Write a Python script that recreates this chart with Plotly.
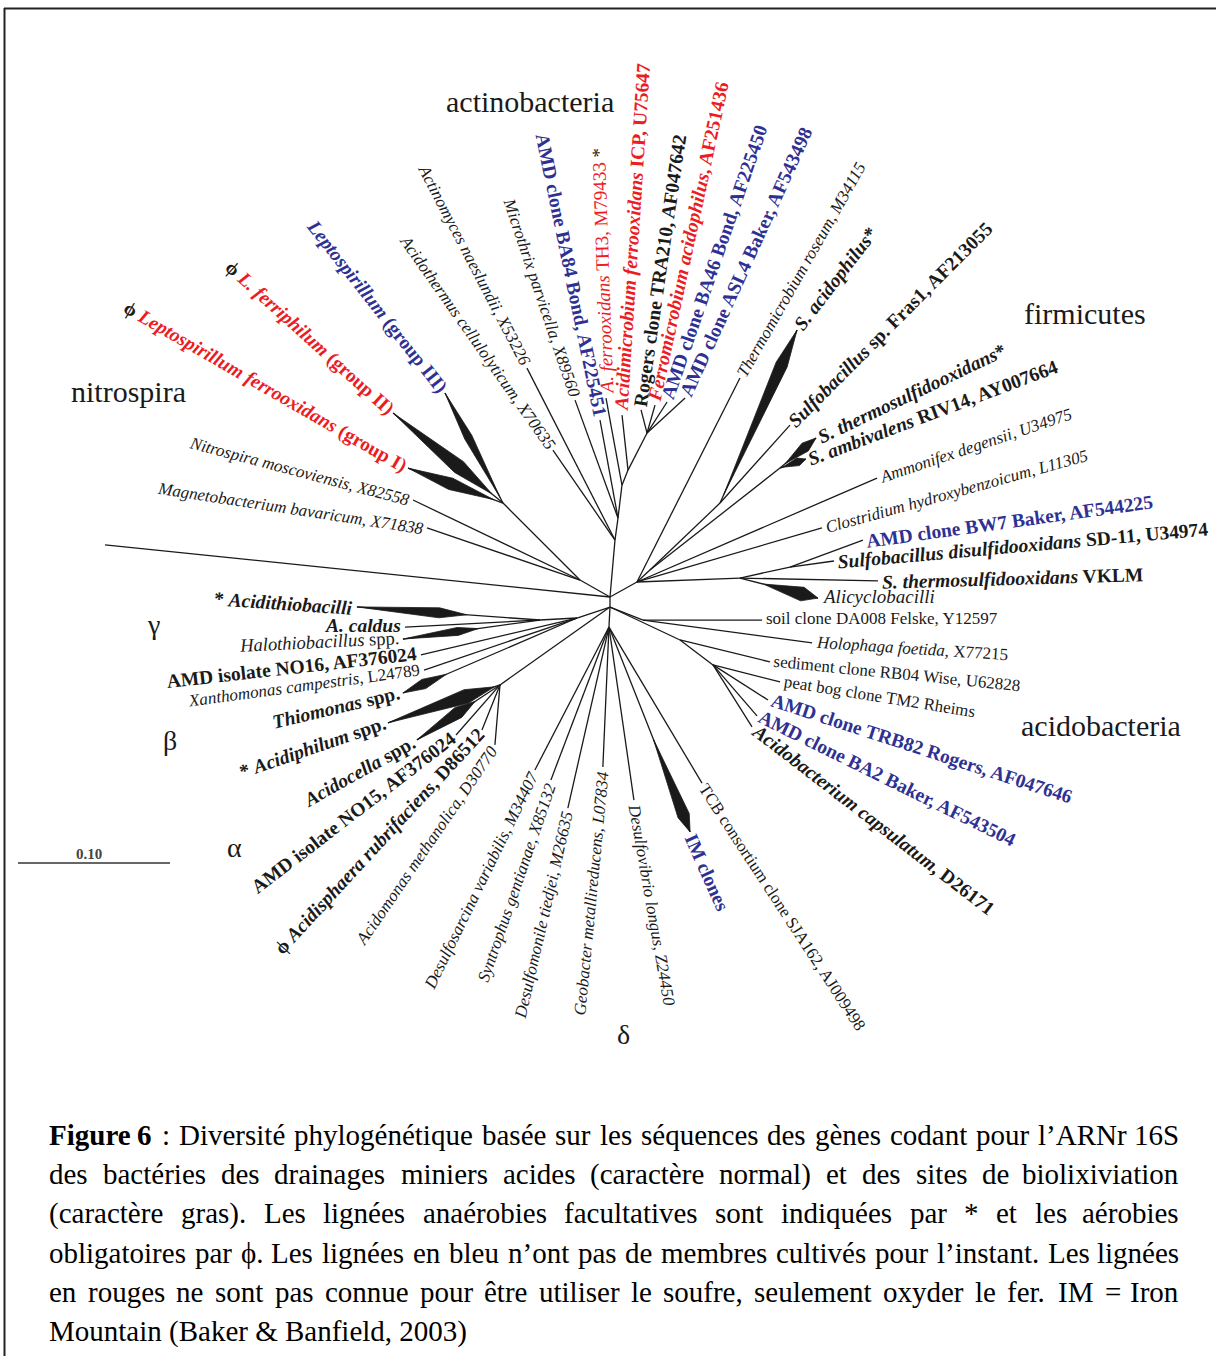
import math
import re
import plotly.graph_objects as go

# ======================= DATA =======================
# Scale bar of the tree (substitutions per site) and its length in the picture
SCALE_BAR_VALUE = 0.10
SCALE_BAR_PIXELS = 152.0

# Internal nodes of the unrooted tree: parent, branch length (subst./site), direction (deg, CCW from +x)
node_name = ["D", "F0", "A1", "N1", "N2", "A2", "A3", "A4", "A5", "Fa", "F1", "F2",
             "Fd", "Fe", "Ah", "Ac1", "Ac2", "De0", "G0", "Ga", "Al"]
node_parent = ["R", "R", "R", "R", "N1", "A1", "A2", "A3", "A4", "F0", "Fa", "Fa",
               "F0", "Fd", "D", "D", "Ac1", "D", "D", "G0", "D"]
node_length = [0.0066, 0.0203, 0.0376, 0.0227, 0.0716, 0.0146, 0.0218, 0.0107, 0.0274, 0.0116, 0.0638, 0.1087,
               0.0678, 0.0337, 0.0234, 0.0509, 0.0272, 0.0132, 0.0229, 0.0244, 0.0887]
node_dir = [-90.0, 29.1, 85.0, 150.5, 135.0, 82.2, 83.1, 68.2, 62.8, 42.7, 43.7, 38.1,
            2.2, 12.4, -21.5, -25.2, -37.1, -92.9, 198.4, 183.1, 215.3]

# Leaves
leaf_key = ["outgroup", "magneto", "nitro", "leptoI", "leptoII", "leptoIII", "actinomyces", "acidothermus",
            "microthrix", "ba84", "th3", "acidimicrobium", "rogers", "ferromicrobium", "ba46", "asl4",
            "thermo", "sacido", "fras1", "sthermo", "sambi", "ammonifex", "clostridium", "bw7", "sd11",
            "vklm", "alicyclo", "soil", "holophaga", "sediment", "peat", "trb82", "ba2", "acidobacterium",
            "desulfosarcina", "syntrophus", "desulfomonile", "geobacter", "desulfovibrio", "im", "tcb",
            "acidithio", "acaldus", "halothio", "no16", "xantho", "thiomonas", "acidiphilum", "acidocella",
            "no15", "acidisphaera", "acidomonas"]
leaf_text = [
    "",
    "<i>Magnetobacterium bavaricum, X71838</i>",
    "<i>Nitrospira moscoviensis, X82558</i>",
    "ϕ <i>Leptospirillum ferrooxidans</i> (group I)",
    "ϕ <i>L. ferriphilum</i> (group II)",
    "<i>Leptospirillum</i> (group III)",
    "<i>Actinomyces naeslundii, X53226</i>",
    "<i>Acidothermus cellulolyticum, X70635</i>",
    "<i>Microthrix parvicella, X89560</i>",
    "AMD clone BA84 Bond, AF225451",
    "<i>A. ferrooxidans</i> TH3, M79433 *",
    "<i>Acidimicrobium ferrooxidans</i> ICP, U75647",
    "Rogers clone TRA210, AF047642",
    "<i>Ferromicrobium acidophilus</i>, AF251436",
    "AMD clone BA46 Bond, AF225450",
    "AMD clone ASL4 Baker, AF543498",
    "<i>Thermomicrobium roseum, M34115</i>",
    "<i>S. acidophilus</i>*",
    "<i>Sulfobacillus</i> sp. Fras1, AF213055",
    "<i>S. thermosulfidooxidans</i>*",
    "<i>S. ambivalens</i> RIV14, AY007664",
    "<i>Ammonifex degensii, U34975</i>",
    "<i>Clostridium hydroxybenzoicum, L11305</i>",
    "AMD clone BW7 Baker, AF544225",
    "<i>Sulfobacillus disulfidooxidans</i> SD-11, U34974",
    "<i>S. thermosulfidooxidans</i> VKLM",
    "<i>Alicyclobacilli</i>",
    "soil clone DA008 Felske, Y12597",
    "<i>Holophaga foetida</i>, X77215",
    "sediment clone RB04 Wise, U62828",
    "peat bog clone TM2 Rheims",
    "AMD clone TRB82 Rogers, AF047646",
    "AMD clone BA2 Baker, AF543504",
    "<i>Acidobacterium capsulatum</i>, D26171",
    "<i>Desulfosarcina variabilis, M34407</i>",
    "<i>Syntrophus gentianae, X85132</i>",
    "<i>Desulfomonile tiedjei, M26635</i>",
    "<i>Geobacter metallireducens, L07834</i>",
    "<i>Desulfovibrio longus, Z24450</i>",
    "IM clones",
    "TCB consortium clone SJA162, AJ009498",
    "* <i>Acidithiobacilli</i>",
    "<i>A. caldus</i>",
    "<i>Halothiobacillus</i> spp.",
    "AMD isolate NO16, AF376024",
    "<i>Xanthomonas campestris</i>, L24789",
    "<i>Thiomonas</i> spp.",
    "* <i>Acidiphilum</i> spp.",
    "<i>Acidocella</i> spp.",
    "AMD isolate NO15, AF376024",
    "ϕ <i>Acidisphaera rubrifaciens</i>, D86512",
    "<i>Acidomonas methanolica, D30770</i>",
]
leaf_parent = ["R", "N1", "N1", "N2", "N2", "N2", "A1", "A1", "A2", "A2", "A3", "A4", "A5", "A5", "A5", "A5",
               "F0", "F1", "F1", "F2", "F2", "F0", "F0", "Fe", "Fe", "Fd", "Fd", "Ah", "Ah", "Ac1", "Ac2",
               "Ac2", "Ac2", "Ac2", "De0", "De0", "De0", "De0", "De0", "De0", "De0", "Ga", "Ga", "Ga",
               "G0", "G0", "G0", "Al", "Al", "Al", "Al", "Al"]
leaf_length = [0.3340, 0.1063, 0.1218, 0.0666, 0.0935, 0.0818, 0.1271, 0.0719, 0.0826, 0.0655, 0.0582,
               0.0364, 0.0157, 0.0191, 0.0243, 0.0340, 0.1503, 0.1246, 0.0689, 0.0309, 0.0181, 0.1721,
               0.1268, 0.0512, 0.0292, 0.0908, 0.0530, 0.0783, 0.1122, 0.0609, 0.0455, 0.0429, 0.0443,
               0.0482, 0.1059, 0.1076, 0.1221, 0.0922, 0.1150, 0.1450, 0.1195, 0.1207, 0.0889, 0.0910,
               0.1055, 0.1063, 0.1247, 0.0778, 0.0655, 0.0438, 0.0319, 0.0396]
leaf_dir = [174.1, 161.2, 154.4, 159.8, 140.7, 117.8, 117.1, 124.6, 110.0, 100.4, 100.4, 96.2, 104.6, 74.1,
            57.2, 42.6, 63.2, 66.0, 48.1, 39.8, 19.1, 23.4, 16.3, 20.3, 7.8, -1.2, -14.4, 0.0, -7.7, -13.7,
            -14.2, -32.5, -49.2, -57.8, 242.6, 249.2, 257.2, 267.5, -81.8, -68.4, -59.2, 175.9, 183.0,
            187.9, 193.3, 198.8, 203.3, 198.7, 213.5, 228.7, 248.2, 265.2]
label_dir = [174.1, 171.3, 165.2, 150.1, 138.0, 128.2, 117.5, 125.1, 108.6, 101.7, 92.0, 86.3, 81.7, 77.9,
             70.9, 65.5, 60.4, 52.5, 45.1, 25.5, 20.7, 18.6, 15.5, 7.9, 5.1, 1.7, 0.0, 0.0, -3.7, -5.7,
             -9.1, -18.0, -26.2, -37.5, 244.0, 251.0, 257.0, 264.5, -80.0, -66.0, -56.9, 176.0, 180.0,
             182.8, 186.4, 187.7, 193.3, 199.0, 209.1, 217.5, 227.3, 235.6]
# lineage class: iron = only iron oxidisers (red), uncultured (blue), other (black)
leaf_lineage = ["other", "other", "other", "iron", "iron", "uncultured", "other", "other", "other", "uncultured",
                "iron", "iron", "other", "iron", "uncultured", "uncultured", "other", "other", "other", "other",
                "other", "other", "other", "uncultured", "other", "other", "other", "other", "other", "other",
                "other", "uncultured", "uncultured", "other", "other", "other", "other", "other", "other",
                "uncultured", "other", "other", "other", "other", "other", "other", "other", "other", "other",
                "other", "other", "other"]
# bioleaching-site sequences (printed bold)
leaf_bioleaching = [False, False, False, True, True, True, False, False, False, True, False, True, True, True,
                    True, True, False, True, True, True, True, False, False, True, True, True, False, False,
                    False, False, False, True, True, True, False, False, False, False, False, True, False,
                    True, True, False, True, False, True, True, True, True, True, False]
leaf_collapsed = ["leptoI", "leptoII", "leptoIII", "sacido", "sthermo", "sambi", "alicyclo", "im",
                  "acidithio", "halothio", "thiomonas", "acidiphilum", "acidocella"]

group_names = ["actinobacteria", "nitrospira", "firmicutes", "acidobacteria", "γ", "β", "α", "δ"]

caption_lines = [
    "<b>Figure</b> <b>6</b> : Diversité phylogénétique basée sur les séquences des gènes codant pour l’ARNr 16S",
    "des bactéries des drainages miniers acides (caractère normal) et des sites de biolixiviation",
    "(caractère gras). Les lignées anaérobies facultatives sont indiquées par * et les aérobies",
    "obligatoires par ϕ. Les lignées en bleu n’ont pas de membres cultivés pour l’instant. Les lignées",
    "en rouges ne sont pas connue pour être utiliser le soufre, seulement oxyder le fer. IM = Iron",
    "Mountain (Baker &amp; Banfield, 2003)",
]

# ======================= STYLE / LAYOUT =======================
W, H = 1216, 1356
PX = SCALE_BAR_PIXELS / SCALE_BAR_VALUE
ROOT_XY = (610.0, 597.0)
SERIF = "Liberation Serif"
INK = "#1a1a1a"
COLOURS = {"iron": "#ec1c24", "uncultured": "#2e3192", "other": INK}
SIZE_BOLD, SIZE_PLAIN = 19.5, 17.0
SIZE_OVERRIDE = {"th3": 19.0, "halothio": 18.5, "alicyclo": 19.0}
KITE = {  # start fraction, widest fraction, half width (px)
    "leptoI": (0.10, 0.55, 6), "leptoII": (0.10, 0.40, 7), "leptoIII": (0.05, 0.60, 4),
    "sacido": (0.05, 0.80, 6), "sthermo": (0.15, 0.70, 5), "sambi": (0.10, 0.70, 4),
    "alicyclo": (0.30, 0.80, 7), "im": (0.55, 0.92, 6), "acidithio": (0.40, 0.55, 5),
    "halothio": (0.45, 0.60, 4), "thiomonas": (0.75, 0.88, 5), "acidiphilum": (0.05, 0.30, 7),
    "acidocella": (0.30, 0.50, 6),
}
GROUP_POS = {"actinobacteria": (530, 101, 30), "nitrospira": (128, 391, 30), "firmicutes": (1085, 313, 30),
             "acidobacteria": (1101, 725, 30), "γ": (153, 624, 28), "β": (170, 740, 28),
             "α": (234, 847, 28), "δ": (623, 1034, 28)}

# ---------------- tree geometry ----------------
pos = {"R": ROOT_XY}


def child_xy(parent, length, ang):
    px, py = pos[parent]
    L = length * PX
    a = math.radians(ang)
    return (px + L * math.cos(a), py - L * math.sin(a))


seg_x, seg_y = [], []
for n, p, l, a in zip(node_name, node_parent, node_length, node_dir):
    pos[n] = child_xy(p, l, a)
    seg_x += [pos[p][0], pos[n][0], None]
    seg_y += [pos[p][1], pos[n][1], None]

tips = []
for i in range(len(leaf_key)):
    t = child_xy(leaf_parent[i], leaf_length[i], leaf_dir[i])
    tips.append(t)
    p = pos[leaf_parent[i]]
    seg_x += [p[0], t[0], None]
    seg_y += [p[1], t[1], None]

kx, ky = [], []
for key in leaf_collapsed:
    i = leaf_key.index(key)
    a0, b0, hw = KITE[key]
    S = pos[leaf_parent[i]]
    T = tips[i]
    dx, dy = T[0] - S[0], T[1] - S[1]
    L = math.hypot(dx, dy)
    nx, ny = -dy / L, dx / L
    q0 = (S[0] + a0 * dx, S[1] + a0 * dy)
    qb = (S[0] + b0 * dx, S[1] + b0 * dy)
    kx += [q0[0], qb[0] + hw * nx, T[0], qb[0] - hw * nx, q0[0], None]
    ky += [q0[1], qb[1] + hw * ny, T[1], qb[1] - hw * ny, q0[1], None]


def place_label(tip, phi_deg, fs, gap=4.0):
    phi = ((phi_deg + 180.0) % 360.0) - 180.0
    outward = -94.0 < phi < 94.0
    r = math.radians(phi)
    bx, by = math.cos(r), -math.sin(r)
    Px, Py = tip[0] + gap * bx, tip[1] + gap * by
    if outward:
        alpha = phi
    else:
        alpha = phi - 180.0 if phi > 0 else phi + 180.0
    a = math.radians(alpha)
    nx, ny = -math.sin(a), -math.cos(a)
    h = 1.25 * fs
    if bx >= 0:
        xa, xanc = Px - h / 2 * abs(nx), "left"
    else:
        xa, xanc = Px + h / 2 * abs(nx), "right"
    if by < 0:
        ya, yanc = Py + h / 2 * abs(ny), "bottom"
    else:
        ya, yanc = Py - h / 2 * abs(ny), "top"
    return xa, ya, xanc, yanc, -alpha


annotations = []
for i, key in enumerate(leaf_key):
    txt = leaf_text[i]
    if not txt:
        continue
    colour = COLOURS[leaf_lineage[i]]
    if leaf_lineage[i] != "other":
        txt = txt.replace("ϕ", "<span style='color:%s'>ϕ</span>" % INK)
        txt = txt.replace("*", "<span style='color:%s'>*</span>" % INK)
    bold = leaf_bioleaching[i]
    if bold:
        txt = "<b>" + txt + "</b>"
    fs = SIZE_OVERRIDE.get(key, SIZE_BOLD if bold else SIZE_PLAIN)
    xa, ya, xanc, yanc, tang = place_label(tips[i], label_dir[i], fs)
    annotations.append(dict(x=xa, y=ya, xref="x", yref="y", text=txt, showarrow=False,
                            xanchor=xanc, yanchor=yanc, textangle=tang, borderpad=0, borderwidth=0,
                            font=dict(family=SERIF, size=fs, color=colour)))

for g in group_names:
    gx, gy, gs = GROUP_POS[g]
    annotations.append(dict(x=gx, y=gy, xref="x", yref="y", text=g, showarrow=False,
                            xanchor="center", yanchor="middle", borderpad=0,
                            font=dict(family=SERIF, size=gs, color=INK)))

# scale bar
SB_X0, SB_Y = 18.0, 863.0
sb_x = [SB_X0, SB_X0 + SCALE_BAR_VALUE * PX]
sb_y = [SB_Y, SB_Y]
annotations.append(dict(x=89, y=854, xref="x", yref="y", text="<b>%.2f</b>" % SCALE_BAR_VALUE,
                        showarrow=False, xanchor="center", yanchor="middle", borderpad=0,
                        font=dict(family=SERIF, size=15, color="#444")))

# ---------------- caption (justified) ----------------
_w = {}
for chars, w in [(" ", 250), ("ijlt", 278), ("frI()-'’", 333), ("sJ", 389), ("acez", 444),
                 ("bdghknopquvxy0123456789*ϕ", 500), ("FPS", 556), ("=", 564), ("ELTZ", 611),
                 ("BCR", 667), ("wADGHKNOQUVXY", 722), ("m&", 778), ("M", 889), ("W", 944),
                 (",.", 250), (":;", 278)]:
    for c in chars:
        _w[c] = w
_acc = {"é": "e", "è": "e", "ê": "e", "ë": "e", "à": "a", "â": "a", "î": "i", "ï": "i",
        "ô": "o", "ù": "u", "û": "u", "ç": "c"}


def text_width(word, fs):
    bold = "<b>" in word
    plain = re.sub(r"<[^>]+>", "", word).replace("&amp;", "&")
    tot = sum(_w.get(_acc.get(c, c), 500) for c in plain)
    return tot / 1000.0 * fs * (1.05 if bold else 1.0)


CAP_FS = 29
CAP_X0, CAP_X1 = 48.0, 1180.0
CAP_Y0, CAP_DY = 1135.0, 39.2
for li, line in enumerate(caption_lines):
    y = CAP_Y0 + li * CAP_DY
    if li == len(caption_lines) - 1:
        annotations.append(dict(x=CAP_X0, y=y, xref="x", yref="y", text=line, showarrow=False,
                                xanchor="left", yanchor="middle", borderpad=0,
                                font=dict(family=SERIF, size=CAP_FS, color="black")))
        continue
    words = line.split(" ")
    widths = [text_width(w, CAP_FS) for w in words]
    gapw = (CAP_X1 - CAP_X0 - sum(widths)) / (len(words) - 1)
    x = CAP_X0
    for wi, (word, ww) in enumerate(zip(words, widths)):
        last = wi == len(words) - 1
        annotations.append(dict(x=CAP_X1 if last else x, y=y, xref="x", yref="y", text=word,
                                showarrow=False, xanchor="right" if last else "left", yanchor="middle",
                                borderpad=0, font=dict(family=SERIF, size=CAP_FS, color="black")))
        x += ww + gapw

# ---------------- figure ----------------
fig = go.Figure()
fig.add_trace(go.Scatter(x=seg_x, y=seg_y, mode="lines", line=dict(color=INK, width=1.3),
                         hoverinfo="skip"))
fig.add_trace(go.Scatter(x=kx, y=ky, mode="lines", fill="toself", fillcolor=INK,
                         line=dict(color=INK, width=0.8), hoverinfo="skip"))
fig.add_trace(go.Scatter(x=sb_x, y=sb_y, mode="lines", line=dict(color="#333", width=1.5),
                         hoverinfo="skip"))

shapes = [
    dict(type="line", xref="x", yref="y", x0=4, y0=8.5, x1=W, y1=8.5, line=dict(color="#222", width=2)),
    dict(type="line", xref="x", yref="y", x0=4.5, y0=8, x1=4.5, y1=H, line=dict(color="#222", width=2)),
]

fig.update_layout(
    width=W, height=H, autosize=False,
    margin=dict(l=0, r=0, t=0, b=0),
    paper_bgcolor="white", plot_bgcolor="white", showlegend=False,
    xaxis=dict(range=[0, W], visible=False, fixedrange=True),
    yaxis=dict(range=[H, 0], visible=False, fixedrange=True),
    annotations=annotations, shapes=shapes,
)
fig.write_html("out.html", config={"displayModeBar": False})
